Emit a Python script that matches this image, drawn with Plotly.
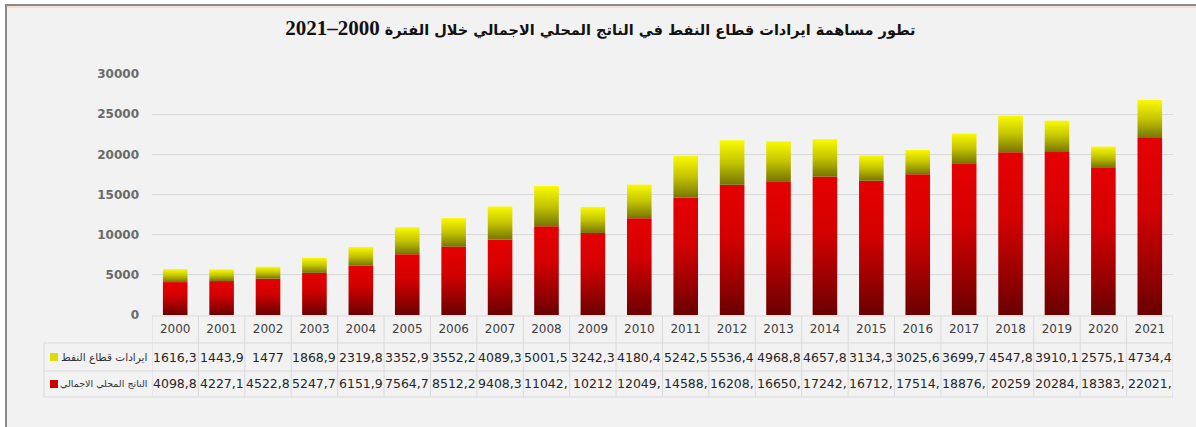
import plotly.graph_objects as go

# ---------------- data ----------------
years = list(range(2000, 2022))
oil_revenue = [1616.3, 1443.9, 1477, 1868.9, 2319.8, 3352.9, 3552.2, 4089.3, 5001.5, 3242.3,
               4180.4, 5242.5, 5536.4, 4968.8, 4657.8, 3134.3, 3025.6, 3699.7, 4547.8, 3910.1,
               2575.1, 4734.4]
gdp = [4098.8, 4227.1, 4522.8, 5247.7, 6151.9, 7564.7, 8512.2, 9408.3, 11042.5, 10212,
       12049.5, 14588.5, 16208.5, 16650.5, 17242.5, 16712.5, 17514.5, 18876.5, 20259, 20284.5,
       18383.5, 22021.5]
oil_label = "ايرادات قطاع النفط"
gdp_label = "الناتج المحلي الاجمالي"
title_words = "تطور مساهمة ايرادات قطاع النفط في الناتج المحلي الاجمالي خلال الفترة"
title_period = "2000–2021"
y_ticks = [0, 5000, 10000, 15000, 20000, 25000, 30000]

# ---------------- layout constants (pixels) ----------------
FIG_W, FIG_H = 1196, 427
L, R, T, B = 152, 23, 74, 112
PW = FIG_W - L - R
PH = FIG_H - T - B
BAR_HALF = 0.265


def px_x(p):
    return (p - L) / PW


def px_y(p):
    return (FIG_H - B - p) / PH


def cell_text(v):
    s = f"{v:.1f}"
    if s.endswith(".0"):
        s = s[:-2]
    return s.replace(".", ",")[:6]


RED_SCALE = [[0, "#6a0000"], [0.3, "#a20000"], [0.6, "#d40000"], [1, "#e60000"]]
YEL_SCALE = [[0, "#767600"], [0.5, "#c4c400"], [1, "#fafa00"]]

fig = go.Figure()

for yr, g, o in zip(years, gdp, oil_revenue):
    xs = [yr - BAR_HALF, yr + BAR_HALF, yr + BAR_HALF, yr - BAR_HALF, yr - BAR_HALF]
    fig.add_trace(go.Scatter(
        x=xs, y=[0, 0, g, g, 0], mode="lines", fill="toself",
        fillgradient=dict(type="vertical", colorscale=RED_SCALE),
        line=dict(width=0, color="rgba(0,0,0,0)"), showlegend=False,
        name=gdp_label, hoverinfo="skip"))
    fig.add_trace(go.Scatter(
        x=xs, y=[g, g, g + o, g + o, g], mode="lines", fill="toself",
        fillgradient=dict(type="vertical", colorscale=YEL_SCALE),
        line=dict(width=0, color="rgba(0,0,0,0)"), showlegend=False,
        name=oil_label, hoverinfo="skip"))

shapes = []
# background frame
shapes.append(dict(type="rect", xref="paper", yref="paper", layer="below",
                   x0=px_x(6), x1=px_x(FIG_W + 5), y0=px_y(FIG_H + 5), y1=px_y(5),
                   fillcolor="#f2f2f2", line=dict(width=0)))
shapes.append(dict(type="line", xref="paper", yref="paper",
                   x0=px_x(6), x1=px_x(6), y0=px_y(4), y1=px_y(FIG_H + 5),
                   line=dict(color="#8a8a8a", width=2)))
shapes.append(dict(type="line", xref="paper", yref="paper",
                   x0=px_x(5), x1=px_x(FIG_W + 5), y0=px_y(5), y1=px_y(5),
                   line=dict(color="#8a8a8a", width=2)))
shapes.append(dict(type="line", xref="paper", yref="paper",
                   x0=px_x(7), x1=px_x(FIG_W + 5), y0=px_y(7), y1=px_y(7),
                   line=dict(color="#f3cdb0", width=1)))

GRID = "#d9d9d9"
row_lines = [316, 343, 371, 397]
for i, p in enumerate(row_lines):
    shapes.append(dict(type="line", xref="paper", yref="paper",
                       x0=0 if i == 0 else px_x(44), x1=1, y0=px_y(p), y1=px_y(p),
                       line=dict(color=GRID, width=1)))
for yr in years + [years[-1] + 1]:
    shapes.append(dict(type="line", xref="x", yref="paper",
                       x0=yr - 0.5, x1=yr - 0.5, y0=px_y(316), y1=px_y(397),
                       line=dict(color=GRID, width=1)))
shapes.append(dict(type="line", xref="paper", yref="paper",
                   x0=px_x(44), x1=px_x(44), y0=px_y(343), y1=px_y(397),
                   line=dict(color=GRID, width=1)))
# legend keys
shapes.append(dict(type="rect", xref="paper", yref="paper",
                   x0=px_x(50), x1=px_x(58), y0=px_y(361), y1=px_y(353),
                   fillcolor="#dcdc00", line=dict(width=0)))
shapes.append(dict(type="rect", xref="paper", yref="paper",
                   x0=px_x(50), x1=px_x(58), y0=px_y(388), y1=px_y(380),
                   fillcolor="#cc0000", line=dict(width=0)))

annotations = []
NUM_FONT = dict(family="DejaVu Sans", size=12.5, color="#262626")
for yr, g, o in zip(years, gdp, oil_revenue):
    annotations.append(dict(x=yr, y=px_y(357), xref="x", yref="paper", text=cell_text(o),
                            showarrow=False, font=NUM_FONT, xanchor="center", yanchor="middle"))
    annotations.append(dict(x=yr, y=px_y(384), xref="x", yref="paper", text=cell_text(g),
                            showarrow=False, font=NUM_FONT, xanchor="center", yanchor="middle"))
annotations.append(dict(x=px_x(149), y=px_y(357), xref="paper", yref="paper", text=oil_label,
                        showarrow=False, xanchor="right", yanchor="middle",
                        font=dict(family="DejaVu Sans", size=10.5, color="#333333")))
annotations.append(dict(x=px_x(149), y=px_y(384), xref="paper", yref="paper", text=gdp_label,
                        showarrow=False, xanchor="right", yanchor="middle",
                        font=dict(family="DejaVu Sans", size=9.5, color="#333333")))

title_html = (f"{title_words} "
              f"<span style='font-size:21px;font-family:Liberation Serif'>{title_period}</span>")

fig.update_layout(
    width=FIG_W, height=FIG_H,
    margin=dict(l=L, r=R, t=T, b=B),
    paper_bgcolor="white", plot_bgcolor="rgba(0,0,0,0)",
    title=dict(text=title_html, x=0.502, xref="container", y=1 - 30 / FIG_H, yref="container",
               xanchor="center", yanchor="middle",
               font=dict(family="DejaVu Sans", size=14.5, color="#111111", weight="bold")),
    xaxis=dict(range=[years[0] - 0.5, years[-1] + 0.5], tickmode="array", tickvals=years,
               ticktext=[str(y) for y in years], showgrid=False, zeroline=False, showline=False,
               ticks="", ticklabelstandoff=5,
               tickfont=dict(family="DejaVu Sans", size=12, color="#404040")),
    yaxis=dict(range=[0, 30000], tickmode="array", tickvals=y_ticks, tickformat="d",
               showgrid=True, gridcolor=GRID, gridwidth=1, zeroline=False, showline=False,
               ticks="", ticklabelstandoff=12,
               tickfont=dict(family="DejaVu Sans", size=12, color="#6a6a6a", weight="bold")),
    shapes=shapes, annotations=annotations,
)

fig.write_html("out.html", config={"displayModeBar": False},
               post_script="document.body.style.margin='0';")
